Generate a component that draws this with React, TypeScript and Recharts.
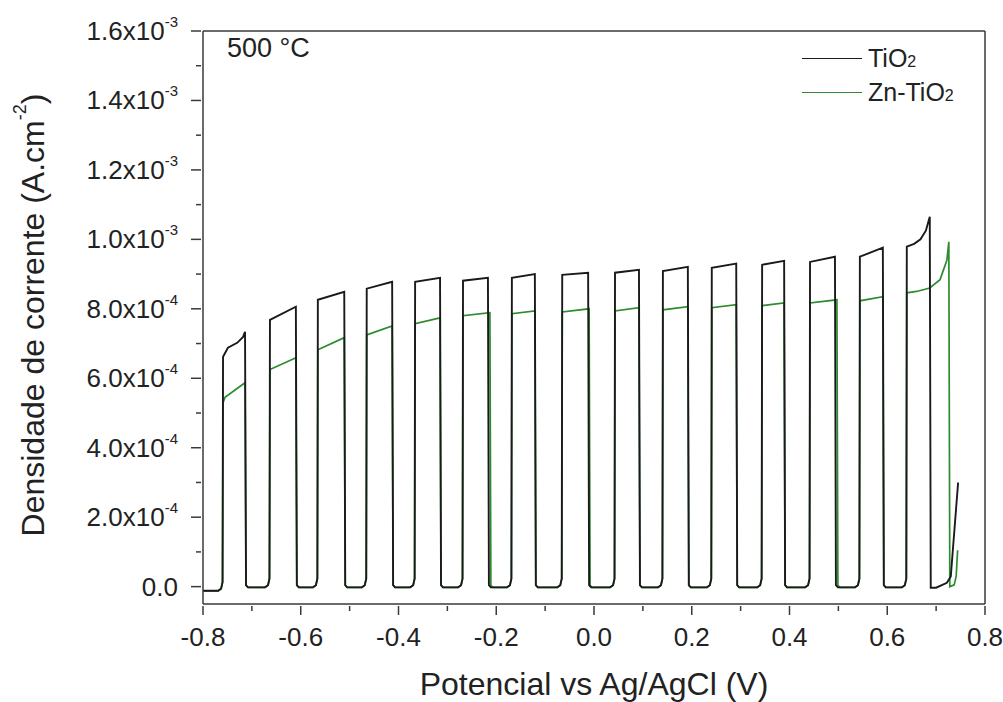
import React from "react";
import {
  LineChart,
  Line,
  XAxis,
  YAxis,
  ReferenceLine,
  Label,
} from "recharts";

// chopped-light voltammetry, 500 °C samples
// light-on edges (V)
const riseV = [-0.759, -0.663, -0.565, -0.465, -0.366, -0.268, -0.168, -0.065, 0.043, 0.141, 0.241, 0.344, 0.442, 0.544, 0.64];
const tio2FallV = [-0.714, -0.61, -0.511, -0.413, -0.315, -0.217, -0.121, -0.012, 0.092, 0.192, 0.291, 0.389, 0.493, 0.591, 0.687];
const znFallV = [-0.714, -0.61, -0.511, -0.413, -0.315, -0.213, -0.121, -0.01, 0.092, 0.192, 0.291, 0.389, 0.497, 0.591, 0.726];

// photocurrent at start / end of each light pulse (A.cm-2)
const tio2Start = [6.62e-4, 7.68e-4, 8.26e-4, 8.58e-4, 8.78e-4, 8.81e-4, 8.89e-4, 8.98e-4, 9.04e-4, 9.09e-4, 9.18e-4, 9.27e-4, 9.35e-4, 9.5e-4, 9.79e-4];
const tio2End = [7.34e-4, 8.06e-4, 8.49e-4, 8.78e-4, 8.89e-4, 8.89e-4, 9.0e-4, 9.04e-4, 9.12e-4, 9.21e-4, 9.3e-4, 9.38e-4, 9.5e-4, 9.76e-4, 1.065e-3];
const znStart = [5.3e-4, 6.25e-4, 6.82e-4, 7.25e-4, 7.57e-4, 7.8e-4, 7.86e-4, 7.91e-4, 7.94e-4, 7.97e-4, 8.03e-4, 8.09e-4, 8.17e-4, 8.23e-4, 8.46e-4];
const znEnd = [5.87e-4, 6.59e-4, 7.17e-4, 7.51e-4, 7.74e-4, 7.89e-4, 7.94e-4, 8.0e-4, 8.03e-4, 8.06e-4, 8.12e-4, 8.17e-4, 8.26e-4, 8.35e-4, 9.93e-4];

// extra points inside some pulses [V, j]
const tio2Inside: Record<number, number[][]> = {
  0: [[-0.749, 6.88e-4], [-0.73, 7.02e-4], [-0.718, 7.19e-4]],
  14: [[0.655, 9.87e-4], [0.668, 1.0e-3], [0.679, 1.025e-3]],
};
const znInside: Record<number, number[][]> = {
  0: [[-0.755, 5.45e-4]],
  14: [[0.66, 8.5e-4], [0.687, 8.6e-4], [0.708, 8.84e-4], [0.722, 9.4e-4]],
};

// dark current after the last pulse
const tio2Tail = [[0.689, -0.3e-5], [0.7, -0.3e-5], [0.722, 1.1e-5], [0.73, 2.9e-5], [0.745, 3.0e-4]];
const znTail = [[0.728, 0], [0.737, 0.5e-5], [0.741, 3e-5], [0.744, 1.05e-4]];

const darkFirst = -1.2e-5;
const darkLevel = -0.2e-5;

const xTicks = [-0.8, -0.7, -0.6, -0.5, -0.4, -0.3, -0.2, -0.1, 0, 0.1, 0.2, 0.3, 0.4, 0.5, 0.6, 0.7, 0.8];
const yTicks = [0, 1e-4, 2e-4, 3e-4, 4e-4, 5e-4, 6e-4, 7e-4, 8e-4, 9e-4, 1e-3, 1.1e-3, 1.2e-3, 1.3e-3, 1.4e-3, 1.5e-3, 1.6e-3];

type Pt = { v: number; j: number };

function buildTrace(
  fall: number[],
  start: number[],
  end: number[],
  inside: Record<number, number[][]>,
  tail: number[][]
): Pt[] {
  const pts: Pt[] = [{ v: -0.8, j: darkFirst }];
  riseV.forEach((r, i) => {
    const d = i === 0 ? darkFirst : darkLevel;
    pts.push(
      { v: r - 0.01, j: d },
      { v: r - 0.004, j: d + 0.6e-5 },
      { v: r - 0.001, j: d + 2.5e-5 },
      { v: r, j: start[i] }
    );
    (inside[i] || []).forEach(([v, j]) => pts.push({ v, j }));
    pts.push({ v: fall[i], j: end[i] });
    if (i < riseV.length - 1) {
      pts.push({ v: fall[i] + 0.002, j: darkLevel + 0.6e-5 }, { v: fall[i] + 0.006, j: darkLevel });
    }
  });
  tail.forEach(([v, j]) => pts.push({ v, j }));
  return pts;
}

const tio2 = buildTrace(tio2FallV, tio2Start, tio2End, tio2Inside, tio2Tail);
const znTio2 = buildTrace(znFallV, znStart, znEnd, znInside, znTail);

const FONT = "'Liberation Sans', Arial, sans-serif";
const AXIS = "#3a3a3a";

const XTick = (props: any) => {
  const { x, y, payload } = props;
  const v = payload.value as number;
  const major = Math.round(v * 10) % 2 === 0;
  return (
    <g>
      <line x1={x} x2={x} y1={y} y2={y + (major ? 9 : 5)} stroke={AXIS} strokeWidth={1.5} />
      {major && (
        <text x={x} y={y + 40} textAnchor="middle" fontSize={26} fontFamily={FONT} fill="#222">
          {v.toFixed(1)}
        </text>
      )}
    </g>
  );
};

const YTick = (props: any) => {
  const { x, y, payload } = props;
  const v = payload.value as number;
  const idx = Math.round(v / 1e-4);
  const major = idx % 2 === 0;
  let body: React.ReactNode = null;
  if (major) {
    if (v === 0) {
      body = "0.0";
    } else {
      const e = Math.floor(Math.log10(v) + 1e-9);
      const m = (v / Math.pow(10, e)).toFixed(1);
      body = (
        <>
          {m + "x10"}
          <tspan fontSize={15} dy={-13}>{String(e)}</tspan>
        </>
      );
    }
  }
  return (
    <g>
      <line x1={x - (major ? 10 : 5)} x2={x} y1={y} y2={y} stroke={AXIS} strokeWidth={1.5} />
      {major && (
        <text x={x - 23} y={y + 9} textAnchor="end" fontSize={26} fontFamily={FONT} fill="#222">
          {body}
        </text>
      )}
    </g>
  );
};

const XTitle = () => (
  <text x={594} y={695} textAnchor="middle" fontSize={32} fontFamily={FONT} fill="#222">
    Potencial vs Ag/AgCl (V)
  </text>
);

const YTitle = () => (
  <text
    x={33}
    y={315}
    transform="rotate(-90, 33, 315)"
    textAnchor="middle"
    dominantBaseline="central"
    fontSize={32}
    fontFamily={FONT}
    fill="#222"
  >
    Densidade de corrente (A.cm
    <tspan fontSize={18} dy={-13}>-2</tspan>
    <tspan dy={13}>)</tspan>
  </text>
);

export default function App() {
  return (
    <div style={{ position: "absolute", left: 0, top: 0, width: 1003, height: 702, background: "#fff" }}>
      <LineChart
        width={1003}
        height={702}
        margin={{ top: 31, right: 18, bottom: 0, left: 0 }}
      >
        <XAxis
          dataKey="v"
          type="number"
          domain={[-0.8, 0.8]}
          ticks={xTicks}
          tick={<XTick />}
          tickSize={0}
          tickLine={false}
          height={98}
          axisLine={{ stroke: AXIS, strokeWidth: 1.5 }}
          allowDataOverflow
          interval={0}
        >
          <Label content={<XTitle />} />
        </XAxis>
        <YAxis
          dataKey="j"
          type="number"
          domain={[-5e-5, 1.6e-3]}
          ticks={yTicks}
          tick={<YTick />}
          tickSize={0}
          tickLine={false}
          width={203}
          axisLine={{ stroke: AXIS, strokeWidth: 1.5 }}
          allowDataOverflow
          interval={0}
        >
          <Label content={<YTitle />} />
        </YAxis>
        <ReferenceLine y={1.6e-3} stroke={AXIS} strokeWidth={1.5} />
        <ReferenceLine x={0.8} stroke={AXIS} strokeWidth={1.5} />
        <Line
          data={znTio2}
          dataKey="j"
          type="linear"
          stroke="#2e8b2e"
          strokeWidth={1.7}
          dot={false}
          isAnimationActive={false}
        />
        <Line
          data={tio2}
          dataKey="j"
          type="linear"
          stroke="#1a1a1a"
          strokeWidth={1.9}
          dot={false}
          isAnimationActive={false}
        />
      </LineChart>

      <div style={{ position: "absolute", left: 227, top: 30, fontFamily: FONT, fontSize: 27, color: "#222", lineHeight: "36px" }}>
        500 °C
      </div>
      <div style={{ position: "absolute", left: 802, top: 43, fontFamily: FONT, fontSize: 25, color: "#222" }}>
        <div style={{ display: "flex", alignItems: "center", height: 30 }}>
          <div style={{ width: 60, height: 0, borderTop: "1.6px solid #1a1a1a", marginRight: 6 }} />
          <span>
            TiO<span style={{ fontSize: 16 }}>2</span>
          </span>
        </div>
        <div style={{ display: "flex", alignItems: "center", height: 30, marginTop: 4 }}>
          <div style={{ width: 60, height: 0, borderTop: "1.6px solid #2e8b2e", marginRight: 6 }} />
          <span>
            Zn-TiO<span style={{ fontSize: 16 }}>2</span>
          </span>
        </div>
      </div>
    </div>
  );
}
